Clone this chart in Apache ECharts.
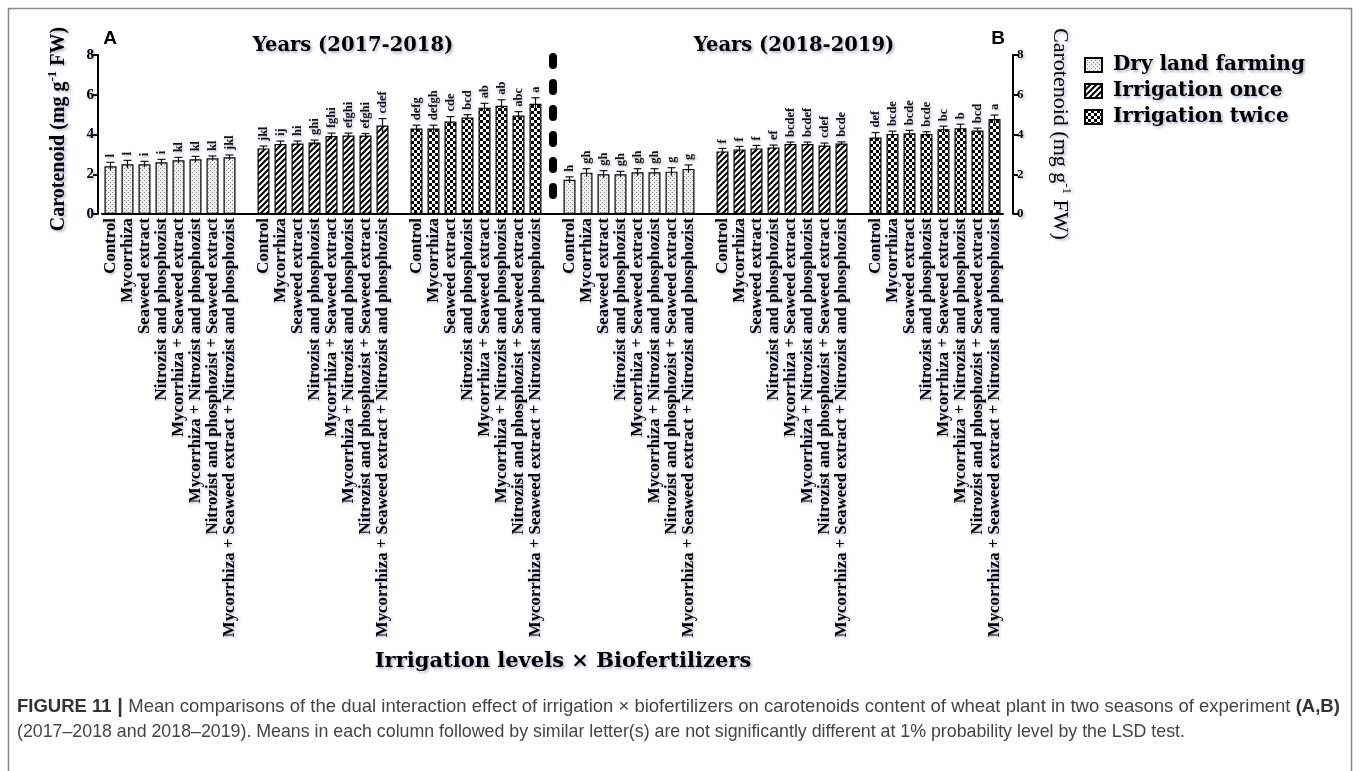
<!DOCTYPE html>
<html>
<head>
<meta charset="utf-8">
<script src="https://cdn.jsdelivr.net/npm/echarts@6/dist/echarts.min.js"></script>
<style>
  html, body { margin: 0; background: #fff; }
  #chart { width: 1360px; height: 771px; }
</style>
</head>
<body>
<div id="chart"></div>
<script>
// treatments, repeated in every irrigation group
const treatments = [
  'Control',
  'Mycorrhiza',
  'Seaweed extract',
  'Nitrozist and phosphozist',
  'Mycorrhiza + Seaweed extract',
  'Mycorrhiza + Nitrozist and phosphozist',
  'Nitrozist and phosphozist + Seaweed extract',
  'Mycorrhiza + Seaweed extract + Nitrozist and phosphozist',
]
const levels = ['Dry land farming', 'Irrigation once', 'Irrigation twice']
const yTicks = [0, 8, 2]

// (A) 2017-2018
const dryA = [2.4, 2.5, 2.5, 2.6, 2.7, 2.75, 2.8, 2.85]
const dryAErr = [0.2, 0.2, 0.15, 0.15, 0.15, 0.15, 0.12, 0.12]
const dryALetters = ['l', 'l', 'i', 'i', 'kl', 'kl', 'kl', 'jkl']
const onceA = [3.3, 3.52, 3.55, 3.6, 3.92, 3.95, 3.95, 4.45]
const onceAErr = [0.12, 0.15, 0.12, 0.12, 0.15, 0.12, 0.1, 0.35]
const onceALetters = ['jkl', 'ij', 'hi', 'ghi', 'fghi', 'efghi', 'efghi', 'cdef']
const twiceA = [4.3, 4.3, 4.65, 4.85, 5.35, 5.45, 4.95, 5.55]
const twiceAErr = [0.17, 0.17, 0.25, 0.15, 0.22, 0.3, 0.2, 0.3]
const twiceALetters = ['defg', 'defgh', 'cde', 'bcd', 'ab', 'ab', 'abc', 'a']

// (B) 2018-2019
const dryB = [1.72, 2.08, 2.0, 2.0, 2.1, 2.1, 2.13, 2.27]
const dryBErr = [0.15, 0.2, 0.18, 0.15, 0.18, 0.18, 0.2, 0.2]
const dryBLetters = ['h', 'gh', 'gh', 'gh', 'gh', 'gh', 'g', 'g']
const onceB = [3.15, 3.25, 3.3, 3.35, 3.52, 3.52, 3.45, 3.55]
const onceBErr = [0.15, 0.15, 0.15, 0.12, 0.1, 0.1, 0.12, 0.08]
const onceBLetters = ['f', 'f', 'f', 'ef', 'bcdef', 'bcdef', 'cdef', 'bcde']
const twiceB = [3.85, 4.02, 4.06, 4.02, 4.27, 4.32, 4.2, 4.78]
const twiceBErr = [0.25, 0.15, 0.15, 0.12, 0.15, 0.2, 0.12, 0.2]
const twiceBLetters = ['def', 'bcde', 'bcde', 'bcde', 'bc', 'b', 'bcd', 'a']

const panels = [
  [[dryA, dryAErr, dryALetters], [onceA, onceAErr, onceALetters], [twiceA, twiceAErr, twiceALetters]],
  [[dryB, dryBErr, dryBLetters], [onceB, onceBErr, onceBLetters], [twiceB, twiceBErr, twiceBLetters]],
]

// one category slot per bar, blank slots between groups and between the two seasons
const categories = []
const barData = [[], [], []]
const errData = []
let sepIndex = 0
function pushBlank() {
  categories.push('')
  barData.forEach((a) => a.push('-'))
}
panels.forEach((panel, p) => {
  if (p > 0) {
    sepIndex = categories.length
    pushBlank()
  }
  panel.forEach(([vals, errs, lets], g) => {
    if (g > 0) pushBlank()
    vals.forEach((v, i) => {
      const idx = categories.length
      categories.push(treatments[i])
      barData.forEach((a, k) => a.push(k === g ? v : '-'))
      errData.push({ value: [idx, v, errs[i]], letter: lets[i] })
    })
  })
})

// fill patterns
function makePattern(kind) {
  const c = document.createElement('canvas')
  const ctx = c.getContext('2d')
  if (kind === 0) {
    c.width = 4; c.height = 4
    ctx.fillStyle = '#eeeeee'
    ctx.fillRect(0, 0, 4, 4)
    ctx.fillStyle = '#8c8c8c'
    ctx.fillRect(0, 0, 1, 1)
    ctx.fillRect(2, 2, 1, 1)
  } else if (kind === 1) {
    c.width = 6; c.height = 6
    ctx.fillStyle = '#fff'
    ctx.fillRect(0, 0, 6, 6)
    ctx.strokeStyle = '#000'
    ctx.lineWidth = 2
    ctx.beginPath()
    ctx.moveTo(-1, 7); ctx.lineTo(7, -1)
    ctx.moveTo(-4, 4); ctx.lineTo(4, -4)
    ctx.moveTo(2, 10); ctx.lineTo(10, 2)
    ctx.stroke()
  } else {
    c.width = 6; c.height = 6
    ctx.fillStyle = '#fff'
    ctx.fillRect(0, 0, 6, 6)
    ctx.fillStyle = '#000'
    ctx.fillRect(0, 0, 3, 3)
    ctx.fillRect(3, 3, 3, 3)
  }
  return { image: c, repeat: 'repeat' }
}

const serif = '"Liberation Serif", "Times New Roman", serif'
const wideSerif = '"DejaVu Serif", "Liberation Serif", serif'
const narrow = '"Liberation Sans Narrow", "Liberation Sans", Arial'
const shadow = {
  textShadowColor: 'rgba(70,90,140,0.45)',
  textShadowBlur: 3,
  textShadowOffsetX: 1.5,
  textShadowOffsetY: 1.5,
}

const chart = echarts.init(document.getElementById('chart'))

const yAxisBase = {
  type: 'value',
  min: yTicks[0],
  max: yTicks[1],
  interval: yTicks[2],
  axisLine: { show: true, lineStyle: { color: '#000', width: 2 } },
  axisTick: { show: true, length: 5, lineStyle: { color: '#000', width: 2 } },
  splitLine: { show: false },
}

const option = {
  animation: false,
  backgroundColor: '#fff',
  grid: { left: 102, top: 55, width: 901, height: 159 },
  legend: {
    orient: 'vertical',
    left: 1079,
    top: 50,
    itemWidth: 17,
    itemHeight: 14,
    itemGap: 6,
    icon: 'rect',
    data: levels,
    textStyle: { fontFamily: wideSerif, fontWeight: 'bold', fontSize: 20, color: '#000', padding: [0, 0, 0, 6], ...shadow },
  },
  xAxis: {
    type: 'category',
    data: categories,
    axisLine: { lineStyle: { color: '#000', width: 2 } },
    axisTick: {
      alignWithLabel: true,
      length: 4,
      interval: (i, v) => v !== '',
      lineStyle: { color: '#000', width: 1.5 },
    },
    axisLabel: {
      interval: 0,
      rotate: 90,
      margin: 4,
      fontFamily: serif,
      fontWeight: 'bold',
      fontSize: 16.8,
      color: '#000',
      ...shadow,
    },
  },
  yAxis: [
    {
      ...yAxisBase,
      position: 'left',
      offset: 4,
      axisLabel: { fontFamily: serif, fontWeight: 'bold', fontSize: 15, color: '#000', margin: 4, ...shadow },
    },
    {
      ...yAxisBase,
      position: 'right',
      offset: 10,
      axisLabel: { fontFamily: serif, fontWeight: 'bold', fontSize: 13, color: '#000', margin: 4, ...shadow },
    },
  ],
  series: [
    ...levels.map((name, k) => ({
      name,
      type: 'bar',
      data: barData[k],
      barWidth: 12,
      barGap: '-100%',
      itemStyle: { color: makePattern(k), borderColor: '#000', borderWidth: 1.2 },
    })),
    {
      type: 'custom',
      z: 5,
      data: errData,
      renderItem(params, api) {
        const x = api.value(0)
        const v = api.value(1)
        const e = api.value(2)
        const top = api.coord([x, v + e])
        const bot = api.coord([x, v - e])
        const st = { stroke: '#111', lineWidth: 1.2 }
        return {
          type: 'group',
          children: [
            { type: 'line', shape: { x1: top[0], y1: top[1], x2: bot[0], y2: bot[1] }, style: st },
            { type: 'line', shape: { x1: top[0] - 4, y1: top[1], x2: top[0] + 4, y2: top[1] }, style: st },
            {
              type: 'text',
              x: top[0],
              y: top[1] - 5,
              rotation: Math.PI / 2,
              style: {
                text: errData[params.dataIndex].letter,
                font: 'bold 12.5px ' + serif,
                fill: '#111',
                align: 'left',
                verticalAlign: 'middle',
                ...shadow,
              },
            },
          ],
        }
      },
      markLine: {
        silent: true,
        symbol: 'none',
        label: { show: false },
        lineStyle: { color: '#000', width: 8, type: [8, 18], cap: 'round' },
        data: [[{ coord: [sepIndex, 7.9] }, { coord: [sepIndex, 0.7] }]],
      },
    },
  ],
  graphic: [
    {
      type: 'rect',
      shape: { x: 8.5, y: 8.5, width: 1343, height: 820 },
      style: { fill: 'none', stroke: '#8a8a8a', lineWidth: 1.5 },
      silent: true,
    },
    { type: 'text', x: 110, y: 39, style: { text: 'A', font: 'bold 19px "Liberation Sans", Arial', fill: '#000', align: 'center', verticalAlign: 'middle' } },
    { type: 'text', x: 998, y: 39, style: { text: 'B', font: 'bold 19px "Liberation Sans", Arial', fill: '#000', align: 'center', verticalAlign: 'middle' } },
    { type: 'text', x: 353, y: 46, style: { text: 'Years (2017-2018)', font: 'bold 19.5px ' + wideSerif, fill: '#000', align: 'center', verticalAlign: 'middle', ...shadow } },
    { type: 'text', x: 794, y: 46, style: { text: 'Years (2018-2019)', font: 'bold 19.5px ' + wideSerif, fill: '#000', align: 'center', verticalAlign: 'middle', ...shadow } },
    {
      type: 'text', x: 59, y: 129, rotation: Math.PI / 2,
      style: {
        text: '{a|Carotenoid (mg g}{s|-1}{a| FW)}',
        align: 'center', verticalAlign: 'middle',
        rich: {
          a: { fontFamily: serif, fontWeight: 'bold', fontSize: 20, fill: '#000', lineHeight: 26, ...shadow },
          s: { fontFamily: serif, fontWeight: 'bold', fontSize: 13, fill: '#000', verticalAlign: 'top', lineHeight: 26, ...shadow },
        },
      },
    },
    {
      type: 'text', x: 1060, y: 134, rotation: -Math.PI / 2,
      style: {
        text: '{a|Carotenoid (mg g}{s|-1}{a| FW)}',
        align: 'center', verticalAlign: 'middle',
        rich: {
          a: { fontFamily: serif, fontSize: 22, fill: '#000', lineHeight: 26, ...shadow },
          s: { fontFamily: serif, fontSize: 13, fill: '#000', verticalAlign: 'top', lineHeight: 26, ...shadow },
        },
      },
    },
    { type: 'text', x: 563, y: 662, style: { text: 'Irrigation levels × Biofertilizers', font: 'bold 21px ' + wideSerif, fill: '#000', align: 'center', verticalAlign: 'middle', ...shadow } },
    {
      type: 'text', x: 17, y: 707,
      style: {
        text: '{b|FIGURE 11}{bar| | }{n|Mean comparisons of the dual interaction effect of irrigation × biofertilizers on carotenoids content of wheat plant in two seasons of experiment }{b|(A,B)}',
        verticalAlign: 'middle',
        rich: {
          b: { fontFamily: narrow, fontWeight: 'bold', fontSize: 18.5, fill: '#333' },
          bar: { fontFamily: '"Liberation Sans"', fontWeight: 'bold', fontSize: 20, fill: '#333' },
          n: { fontFamily: narrow, fontSize: 18.5, fill: '#444' },
        },
      },
    },
    {
      type: 'text', x: 17, y: 732,
      style: {
        text: '(2017–2018 and 2018–2019). Means in each column followed by similar letter(s) are not significantly different at 1% probability level by the LSD test.',
        font: '17.8px ' + narrow,
        fill: '#444',
        verticalAlign: 'middle',
      },
    },
  ],
}

chart.setOption(option)
</script>
</body>
</html>
